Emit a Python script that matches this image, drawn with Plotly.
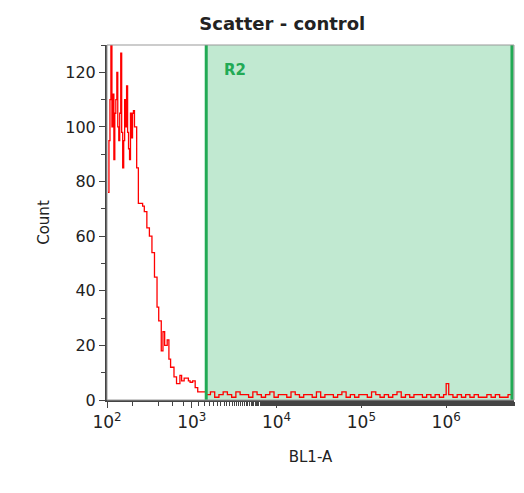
import numpy as np
import plotly.graph_objects as go

# histogram: log10(BL1-A) bin positions and counts
log_x = [2.012, 2.023, 2.035, 2.046, 2.058, 2.069, 2.081, 2.092, 2.104, 2.116, 2.127, 2.139,
         2.150, 2.162, 2.173, 2.185, 2.197, 2.208, 2.220, 2.231, 2.243, 2.254, 2.266, 2.277,
         2.289, 2.301, 2.312, 2.324,
         2.35, 2.37, 2.42, 2.44, 2.47, 2.50, 2.53, 2.56, 2.59, 2.61, 2.64, 2.66, 2.68, 2.71,
         2.73, 2.75, 2.79, 2.82, 2.86, 2.88, 2.91, 2.96, 2.98, 3.01, 3.04, 3.07, 3.13, 3.17,
         3.22, 3.27, 3.32, 3.37, 3.42, 3.47, 3.52, 3.57, 3.62, 3.67, 3.72,
         3.77, 3.82, 3.87, 3.92, 3.97, 4.02, 4.07, 4.12, 4.17, 4.22, 4.27, 4.32, 4.37, 4.42,
         4.47, 4.52, 4.57, 4.62, 4.67, 4.72, 4.77, 4.82, 4.87, 4.92, 4.97, 5.02, 5.07, 5.12,
         5.17, 5.22, 5.27, 5.32, 5.37, 5.42, 5.47, 5.52, 5.57, 5.62, 5.67, 5.72, 5.77, 5.82,
         5.87, 5.92, 5.97, 6.0, 6.03, 6.08, 6.13, 6.18, 6.23, 6.28, 6.33, 6.38, 6.43, 6.48,
         6.53, 6.58, 6.63, 6.68, 6.73, 6.78]
counts = [76, 95, 110, 130, 100, 112, 88, 105, 110, 120, 100, 95, 105, 127,
          98, 85, 95, 110, 100, 115, 98, 92, 88, 105, 96, 105, 106, 100,
          85, 72, 71, 69, 63, 60, 54, 45, 34, 29, 18, 25, 20, 22, 15, 12,
          8.5, 6, 9, 7, 8, 7, 6.5, 7, 4.5, 3, 3, 2,
          3, 1, 2, 3, 2, 1, 3, 2, 2, 1, 3,
          2, 1, 2, 3, 1, 2, 2, 1, 3, 2, 1, 2, 2, 1,
          3, 1, 2, 2, 1, 2, 3, 1, 2, 1, 2, 2, 1, 3,
          2, 1, 2, 1, 2, 3, 1, 2, 1, 2, 2, 1, 2, 1,
          2, 1, 2, 6, 2, 1, 2, 1, 2, 1, 2, 1, 1, 2,
          1, 2, 1, 1, 2, 1]

r2_start = 1480
x_max = 10 ** 6.8
y_max = 130

x = [10 ** v for v in log_x]

fig = go.Figure()
fig.add_trace(go.Scatter(x=x, y=counts, mode="lines", line=dict(color="red", width=1.3, shape="hv"),
                         showlegend=False))

fig.add_shape(type="rect", x0=r2_start, x1=x_max, y0=0, y1=y_max, xref="x", yref="y",
              fillcolor="rgba(100,200,140,0.4)", line=dict(width=0), layer="below")
fig.add_shape(type="line", x0=r2_start, x1=r2_start, y0=0, y1=y_max, line=dict(color="#22aa55", width=3))
fig.add_shape(type="line", xref="paper", yref="paper", x0=0.995, x1=0.995, y0=0, y1=1,
              line=dict(color="#22aa55", width=3))
fig.add_annotation(x=np.log10(2300), y=121, text="<b>R2</b>", showarrow=False, xanchor="left",
                   font=dict(color="#22aa55", size=15))

tickvals = [1e2, 1e3, 1e4, 1e5, 1e6]
ticktext = ["10<sup>2</sup>", "10<sup>3</sup>", "10<sup>4</sup>", "10<sup>5</sup>", "10<sup>6</sup>"]

# page body has an 8px margin, so the figure is sized to fit inside the window
fig.update_layout(
    width=508, height=485,
    margin=dict(l=99, r=2, t=37, b=93),
    plot_bgcolor="white", paper_bgcolor="white",
    font=dict(family="DejaVu Sans", size=15, color="#222"),
    title=dict(text="<b>Scatter - control</b>", x=0.54, xanchor="center", y=0.98, yanchor="top",
               font=dict(size=18)),
    xaxis=dict(type="log", range=[2, 6.8], tickvals=tickvals, ticktext=ticktext, ticks="outside",
               ticklen=6, showgrid=False, showline=True, linecolor="#444", linewidth=2, mirror=False,
               automargin=False,
               title=dict(text="BL1-A", font=dict(size=15), standoff=20), tickfont=dict(size=17),
               minor=dict(ticks="outside", ticklen=4, showgrid=False)),
    yaxis=dict(range=[0, y_max], tickvals=[0, 20, 40, 60, 80, 100, 120], ticks="outside", ticklen=6,
               showgrid=False, showline=True, linecolor="#444", linewidth=2, automargin=False,
               title=dict(text="Count", font=dict(size=15), standoff=12), tickfont=dict(size=16),
               minor=dict(ticks="outside", ticklen=4, dtick=10)),
)
fig.add_shape(type="rect", xref="paper", yref="paper", x0=0, x1=1, y0=0, y1=1,
              line=dict(color="#999", width=1))

fig.write_html("out.html")
